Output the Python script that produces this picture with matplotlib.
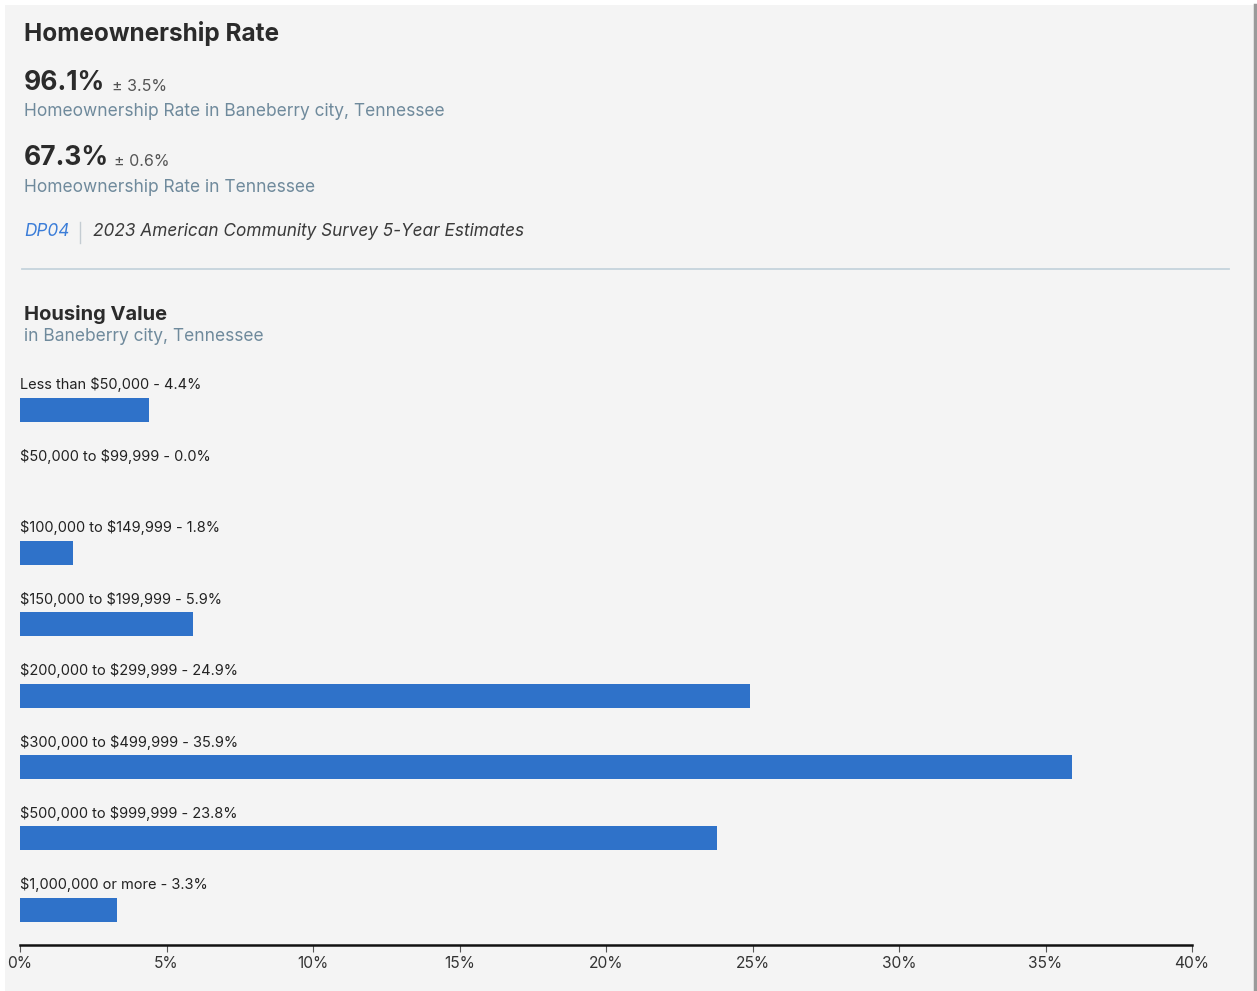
import matplotlib.pyplot as plt
from matplotlib.patches import Rectangle
from matplotlib.lines import Line2D

plt.rcParams['font.family'] = ['Inter', 'DejaVu Sans']

categories = ["Less than \\$50,000", "\\$50,000 to \\$99,999", "\\$100,000 to \\$149,999",
              "\\$150,000 to \\$199,999", "\\$200,000 to \\$299,999", "\\$300,000 to \\$499,999",
              "\\$500,000 to \\$999,999", "\\$1,000,000 or more"]
values = [4.4, 0.0, 1.8, 5.9, 24.9, 35.9, 23.8, 3.3]
ticks = [0, 5, 10, 15, 20, 25, 30, 35, 40]

W, H = 1257, 991
fig = plt.figure(figsize=(W / 100, H / 100), dpi=100, facecolor="white")

def fx(px):
    return px / W

def fy(py):
    return 1 - py / H

# panel background
fig.patches.append(Rectangle((fx(5), 0), fx(1249), fy(5), transform=fig.transFigure,
                             facecolor="#f4f4f4", edgecolor="none", zorder=-5))
fig.add_artist(Line2D([fx(1255), fx(1255)], [0, fy(5)], transform=fig.transFigure,
                      color="#9a9a9a", lw=2.5))

dark = "#2b2b2b"
slate = "#6f8a9c"

fig.text(fx(24), fy(33), "Homeownership Rate", fontsize=17.5, fontweight="bold",
         color=dark, va="center")

fig.text(fx(24), fy(83), "96.1%", fontsize=19, fontweight="bold", color=dark, va="center")
fig.text(fx(112), fy(86), "± 3.5%", fontsize=11.5, color="#555555", va="center")
fig.text(fx(24), fy(112), "Homeownership Rate in Baneberry city, Tennessee",
         fontsize=12.5, color=slate, va="center")

fig.text(fx(24), fy(158), "67.3%", fontsize=19, fontweight="bold", color=dark, va="center")
fig.text(fx(114), fy(161), "± 0.6%", fontsize=11.5, color="#555555", va="center")
fig.text(fx(24), fy(188), "Homeownership Rate in Tennessee",
         fontsize=12.5, color=slate, va="center")

fig.text(fx(24), fy(232), "DP04", fontsize=12.4, style="italic", color="#3b7dd8", va="center")
fig.add_artist(Line2D([fx(80), fx(80)], [fy(222), fy(243)], transform=fig.transFigure,
                      color="#c4ccd2", lw=1))
fig.text(fx(93), fy(232), "2023 American Community Survey 5-Year Estimates",
         fontsize=12.4, style="italic", color="#3a3a3a", va="center")

fig.add_artist(Line2D([fx(22), fx(1229)], [fy(269), fy(269)], transform=fig.transFigure,
                      color="#c5d3dc", lw=1.3))

fig.text(fx(24), fy(314), "Housing Value", fontsize=14.5, fontweight="bold",
         color=dark, va="center")
fig.text(fx(24), fy(337), "in Baneberry city, Tennessee", fontsize=12.5,
         color=slate, va="center")

# bar chart
top_px, bot_px = 375, 945
ax = fig.add_axes([fx(20), fy(bot_px), fx(1192) - fx(20), (bot_px - top_px) / H])
ax.set_facecolor("none")
row = 71.4
first = 410
y = list(range(len(values)))
ax.barh(y, values, height=24 / row, color="#2f72c9")
ax.set_ylim((bot_px - first) / row, (top_px - first) / row)
ax.set_xlim(0, 40)
for i, (c, v) in enumerate(zip(categories, values)):
    ax.text(0.0, i - 25 / row, f"{c} - {v:.1f}%", fontsize=10.5, color="#222222",
            va="center", ha="left")

for s in ["top", "right", "left"]:
    ax.spines[s].set_visible(False)
ax.spines["bottom"].set_linewidth(1.8)
ax.spines["bottom"].set_color("#111111")
ax.set_yticks([])
ax.set_xticks(ticks)
ax.set_xticklabels([f"{t}%" for t in ticks], fontsize=11.2, color="#333333")
ax.tick_params(axis="x", length=5, width=0.8, color="#555555", pad=3)

fig.savefig("out.png", dpi=100, facecolor="white")
